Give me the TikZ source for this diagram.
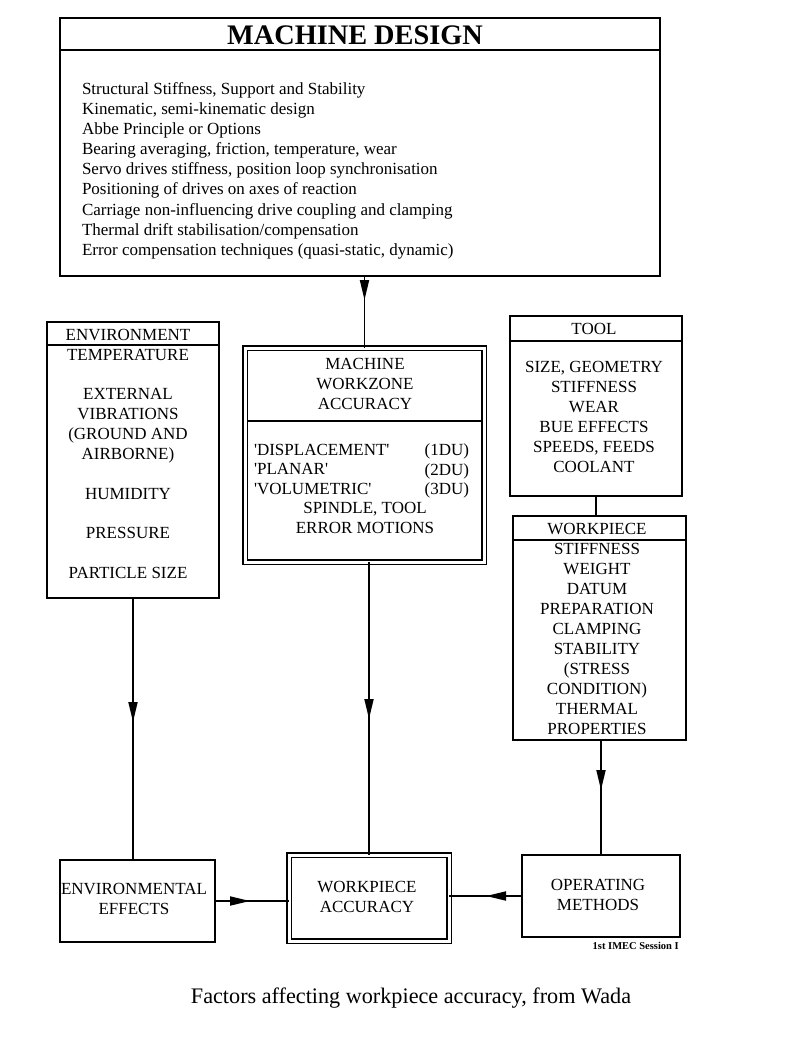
\documentclass[tikz,border=0pt]{standalone}
\usepackage{fontspec}
\setmainfont{Liberation Serif}
\usetikzlibrary{arrows.meta,decorations.markings}
\begin{document}
\begin{tikzpicture}[x=1pt,y=-1pt,
  box/.style={draw, line width=1.8pt, inner sep=0pt, outer sep=0pt},
  dbox/.style={draw, line width=1.6pt, double, double distance=3pt, inner sep=0pt, outer sep=0pt},
  txt/.style={inner sep=0pt, outer sep=0pt, align=center, font=\fontsize{17}{20}\selectfont},
  ltxt/.style={inner sep=0pt, outer sep=0pt, align=left, font=\fontsize{17}{20.1}\selectfont},
  rtxt/.style={inner sep=0pt, outer sep=0pt, align=right, font=\fontsize{17}{19.5}\selectfont},
  lctxt/.style={inner sep=0pt, outer sep=0pt, align=left, font=\fontsize{17}{19.5}\selectfont},
  ln/.style={line width=1.8pt},
  midarr/.style={postaction={decorate}, decoration={markings, mark=at position #1 with {\arrow{Triangle[length=20pt,width=9pt]}}}}
]
\useasboundingbox[fill=white] (0,0) rectangle (788,1050);

% boxes
\node[box, minimum width=600pt, minimum height=258pt] (top) at (360,147) {};
\node[box, minimum width=172pt, minimum height=276pt] (env) at (133,460) {};
\node[dbox, minimum width=239pt, minimum height=214pt] (mwa) at (364.5,455) {};
\node[box, minimum width=172pt, minimum height=180pt] (tool) at (596,406) {};
\node[box, minimum width=173pt, minimum height=224pt] (wp) at (599.5,628) {};
\node[box, minimum width=155pt, minimum height=82pt] (ee) at (137.5,901) {};
\node[dbox, minimum width=160pt, minimum height=86pt] (wa) at (369,898) {};
\node[box, minimum width=158pt, minimum height=82pt] (om) at (601,896) {};

% header dividers
\draw[ln] ([yshift=-32pt]top.north west) -- ([yshift=-32pt]top.north east);
\draw[ln] ([yshift=-23pt]env.north west) -- ([yshift=-23pt]env.north east);
\draw[line width=1.6pt] ([xshift=2.3pt,yshift=-73pt]mwa.north west) -- ([xshift=-2.3pt,yshift=-73pt]mwa.north east);
\draw[ln] ([yshift=-25pt]tool.north west) -- ([yshift=-25pt]tool.north east);
\draw[ln] ([yshift=-24pt]wp.north west) -- ([yshift=-24pt]wp.north east);

% texts
\node[inner sep=0pt, anchor=base, font=\fontsize{28.3}{30}\selectfont\bfseries] (title) at (355,44.5) {MACHINE DESIGN};
\node[ltxt, anchor=north west] (topT) at (82,82.5) {Structural Stiffness, Support and Stability\\
Kinematic, semi-kinematic design\\
Abbe Principle or Options\\
Bearing averaging, friction, temperature, wear\\
Servo drives stiffness, position loop synchronisation\\
Positioning of drives on axes of reaction\\
Carriage non-influencing drive coupling and clamping\\
Thermal drift stabilisation/compensation\\
Error compensation techniques (quasi-static, dynamic)};

\node[txt, anchor=base] (envH) at (128,340) {ENVIRONMENT};
\node[txt, anchor=north] (envT) at (128,349) {TEMPERATURE\\[19.5pt]
EXTERNAL\\ VIBRATIONS\\ (GROUND AND\\ AIRBORNE)\\[19.5pt]
HUMIDITY\\[19.5pt] PRESSURE\\[19.5pt] PARTICLE SIZE};

\node[txt, anchor=north] (mwaH) at (365,358) {MACHINE\\ WORKZONE\\ ACCURACY};
\node[lctxt, anchor=north west] (mwaL) at (254,444) {\textquotesingle DISPLACEMENT\textquotesingle\\ \textquotesingle PLANAR\textquotesingle\\ \textquotesingle VOLUMETRIC\textquotesingle};
\node[rtxt, anchor=north east] (mwaR) at (469,444) {(1DU)\\ (2DU)\\ (3DU)};
\node[txt, anchor=north] (mwaB) at (365,502) {SPINDLE, TOOL\\ ERROR MOTIONS};

\node[txt, anchor=base] (toolH) at (594,334) {TOOL};
\node[txt, anchor=north] (toolT) at (594,361) {SIZE, GEOMETRY\\ STIFFNESS\\ WEAR\\ BUE EFFECTS\\ SPEEDS, FEEDS\\ COOLANT};

\node[txt, anchor=base] (wpH) at (597,534) {WORKPIECE};
\node[txt, anchor=north] (wpT) at (597,543) {STIFFNESS\\ WEIGHT\\ DATUM\\ PREPARATION\\ CLAMPING\\ STABILITY\\ (STRESS\\ CONDITION)\\ THERMAL\\ PROPERTIES};

\node[txt, anchor=north] (eeT) at (134,883) {ENVIRONMENTAL\\ EFFECTS};
\node[txt, anchor=north] (waT) at (367,881) {WORKPIECE\\ ACCURACY};
\node[txt, anchor=north] (omT) at (598,879) {OPERATING\\ METHODS};

\node[inner sep=0pt, anchor=base east, font=\fontsize{10.5}{12}\selectfont\bfseries] (src) at (679,949) {1st IMEC Session I};
\node[inner sep=0pt, anchor=base, font=\fontsize{22.2}{24}\selectfont] (cap) at (411,1003) {Factors affecting workpiece accuracy, from Wada};

% connectors
\draw[ln, midarr=24pt] (mwa.north |- top.south) -- (mwa.north);
\draw[ln, midarr=124pt] (env.south) -- (env.south |- ee.north);
\draw[ln, midarr=157pt] (wa.north |- mwa.south) -- (wa.north);
\draw[ln] (tool.south) -- (tool.south |- wp.north);
\draw[ln, midarr=50pt] (om.north |- wp.south) -- (om.north);
\draw[ln, midarr=35pt] (ee.east) -- (ee.east -| wa.west);
\draw[ln, midarr=36pt] (om.west) -- (om.west -| wa.east);
\end{tikzpicture}
\end{document}
